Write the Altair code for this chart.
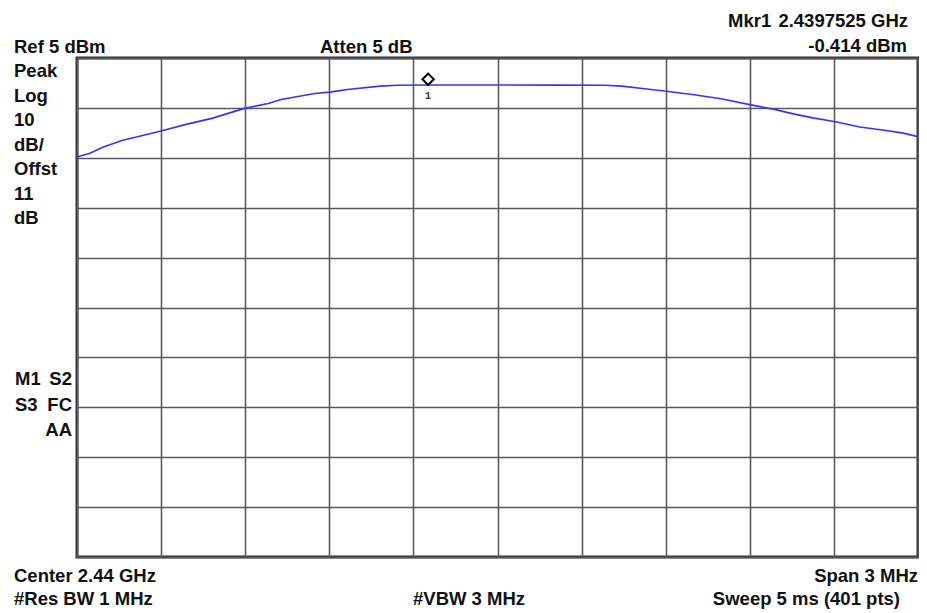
import altair as alt
import pandas as pd

# ---- data ----
center_ghz = 2.44
span_mhz = 3.0
ref_dbm = 5
db_per_div = 10

# trace: frequency offset from center (MHz) and level (dBm)
freq_offset_mhz = [-1.5, -1.454, -1.408, -1.337, -1.277, -1.2, -1.111, -1.019,
                   -0.903, -0.818, -0.772, -0.652, -0.599, -0.535, -0.419, -0.359,
                   -0.2475, 0.0, 0.2, 0.383, 0.443, 0.525, 0.61, 0.701, 0.797,
                   0.913, 0.988, 1.055, 1.125, 1.21, 1.292, 1.373, 1.443, 1.5]
level_dbm = [-14.84, -14.1, -12.9, -11.5, -10.7, -9.64, -8.3, -7.1,
             -5.1, -4.1, -3.3, -2.1, -1.84, -1.3, -0.64, -0.45,
             -0.414, -0.42, -0.43, -0.45, -0.64, -1.16, -1.7, -2.36, -3.16,
             -4.5, -5.3, -6.2, -7.0, -7.84, -8.84, -9.44, -10.0, -10.76]

marker_offset_mhz = [-0.2475]
marker_dbm = [-0.414]
marker_label = ["1"]

x_grid = [-1.5 + 0.3 * i for i in range(11)]
y_grid = [ref_dbm - db_per_div * i for i in range(11)]

# annotation texts
txt_ref = "Ref 5 dBm"
txt_atten = "Atten 5 dB"
txt_mkr = "Mkr1"
txt_mkr_freq = "2.4397525 GHz"
txt_mkr_lvl = "-0.414 dBm"
left_column = ["Peak", "Log", "10", "dB/", "Offst", "11", "dB"]
txt_center = "Center 2.44 GHz"
txt_span = "Span 3 MHz"
txt_rbw = "#Res BW 1 MHz"
txt_vbw = "#VBW 3 MHz"
txt_sweep = "Sweep 5 ms (401 pts)"

trace = pd.DataFrame({"f": freq_offset_mhz, "p": level_dbm})
marker = pd.DataFrame({"f": marker_offset_mhz, "p": marker_dbm, "t": marker_label})

W, H = 841, 499
FONT = "Liberation Sans"
FS = 18.5

xscale = alt.Scale(domain=[-1.5, 1.5], nice=False, zero=False)
yscale = alt.Scale(domain=[-95, 5], nice=False, zero=False)

xaxis = alt.Axis(values=x_grid, grid=True, labels=False, ticks=False, domain=False,
                 title=None, gridColor="#5a5a5a", gridWidth=1.6, gridOpacity=1)
yaxis = alt.Axis(values=y_grid, grid=True, labels=False, ticks=False, domain=False,
                 title=None, gridColor="#5a5a5a", gridWidth=1.6, gridOpacity=1)

line = alt.Chart(trace).mark_line(color="#3434f8", strokeWidth=1.6, clip=True).encode(
    x=alt.X("f:Q", scale=xscale, axis=xaxis),
    y=alt.Y("p:Q", scale=yscale, axis=yaxis),
)

diamond = alt.Chart(marker).mark_point(
    shape="M0,-2L1,-1L0,0L-1,-1Z", size=130, filled=True, fill="white",
    stroke="black", strokeWidth=2, opacity=1
).encode(x=alt.X("f:Q", scale=xscale), y=alt.Y("p:Q", scale=yscale))

mk_label = alt.Chart(marker).mark_text(
    font="Liberation Mono", fontSize=10, fontWeight="bold", dy=11, color="#333"
).encode(x=alt.X("f:Q", scale=xscale), y=alt.Y("p:Q", scale=yscale), text="t:N")


def label(text, x, y, align="left"):
    return alt.Chart(pd.DataFrame({"t": [text]})).mark_text(
        font=FONT, fontSize=FS, fontWeight="bold", align=align,
        baseline="alphabetic", color="#111"
    ).encode(text="t:N", x=alt.value(x), y=alt.value(y))


labels = [
    label(txt_ref, -63, -5.5),
    label(txt_atten, 243, -5.3),
    label(txt_mkr, 651, -31.3),
    label(txt_mkr_freq, 831, -31.3, "right"),
    label(txt_mkr_lvl, 830, -6.3, "right"),
    label("M1", -62, 327), label("S2", -5, 327, "right"),
    label("S3", -62, 353), label("FC", -5, 353, "right"),
    label("AA", -5, 378, "right"),
    label(txt_center, -63, 523.7),
    label(txt_rbw, -63, 547),
    label(txt_vbw, 336, 547),
    label(txt_span, 841, 523.7, "right"),
    label(txt_sweep, 823, 547, "right"),
]
for i, t in enumerate(left_column):
    labels.append(label(t, -63, 19 + 24.5 * i))

chart = alt.layer(line, diamond, mk_label, *labels).properties(
    width=W, height=H,
    autosize=alt.AutoSizeParams(type="none"),
    padding={"left": 69, "top": 50, "right": 1, "bottom": 54},
    background="white",
).configure_view(stroke="#333", strokeWidth=3)

chart.save("out.html", embed_options={"renderer": "svg", "actions": False})
